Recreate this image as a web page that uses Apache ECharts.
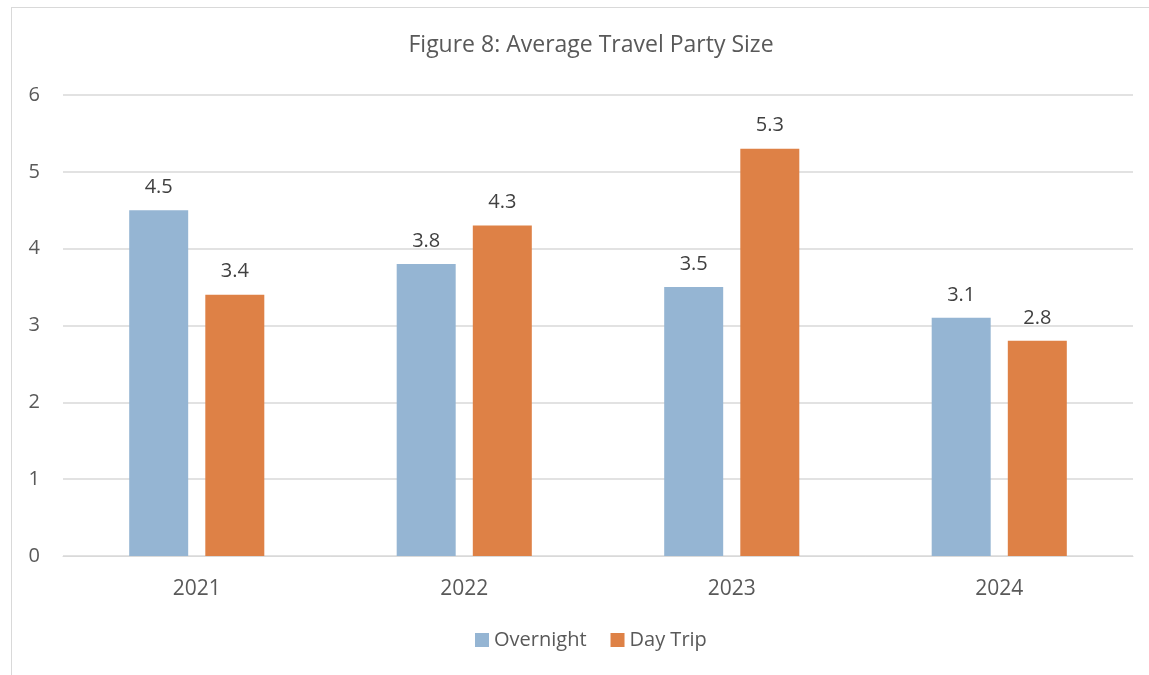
<!DOCTYPE html>
<html>
<head>
<meta charset="utf-8">
<script src="https://cdn.jsdelivr.net/npm/echarts@6/dist/echarts.min.js"></script>
<style>
  html, body { margin: 0; padding: 0; background: #fff; }
  #frame { position: absolute; left: 11px; top: 7px; width: 1200px; height: 700px; border: 1px solid #d9d9d9; box-sizing: border-box; }
  #chart { position: absolute; left: 0; top: 0; width: 1149px; height: 675px; }
</style>
</head>
<body>
<div id="frame"></div>
<div id="chart"></div>
<script>
const years = ['2021', '2022', '2023', '2024'];
const overnight = [4.5, 3.8, 3.5, 3.1];
const dayTrip = [3.4, 4.3, 5.3, 2.8];
const yTicks = [0, 1, 2, 3, 4, 5, 6];

const FONT = 'Open Sans';
const chart = echarts.init(document.getElementById('chart'));

const labelStyle = {
  show: true,
  position: 'top',
  distance: 13,
  fontFamily: FONT,
  fontSize: 20,
  color: '#404040',
  formatter: p => p.value.toFixed(1)
};

chart.setOption({
  animation: false,
  backgroundColor: 'transparent',
  title: {
    text: 'Figure 8: Average Travel Party Size',
    left: 586,
    textAlign: 'center',
    top: 29,
    textStyle: { fontFamily: FONT, fontSize: 23, fontWeight: 'normal', color: '#595959' }
  },
  grid: { left: 63, right: 16, top: 95, bottom: 119 },
  legend: {
    bottom: 20,
    left: 470,
    itemWidth: 14,
    itemHeight: 14,
    itemGap: 24,
    icon: 'rect',
    textStyle: { fontFamily: FONT, fontSize: 20, color: '#595959' },
    data: ['Overnight', 'Day Trip']
  },
  xAxis: {
    type: 'category',
    data: years,
    axisLine: { lineStyle: { color: '#d9d9d9', width: 1 } },
    axisTick: { show: false },
    axisLabel: { fontFamily: FONT, fontSize: 21, color: '#595959', margin: 23 }
  },
  yAxis: {
    type: 'value',
    min: yTicks[0],
    max: yTicks[yTicks.length - 1],
    interval: 1,
    axisLine: { show: false },
    axisTick: { show: false },
    axisLabel: { fontFamily: FONT, fontSize: 20, color: '#595959', margin: 23 },
    splitLine: { lineStyle: { color: '#d9d9d9', width: 1.5 } }
  },
  series: [
    {
      name: 'Overnight',
      type: 'bar',
      data: overnight,
      barWidth: 59,
      barGap: '29%',
      itemStyle: { color: '#95b5d3' },
      label: labelStyle
    },
    {
      name: 'Day Trip',
      type: 'bar',
      data: dayTrip,
      barWidth: 59,
      barGap: '29%',
      itemStyle: { color: '#de8146' },
      label: labelStyle
    }
  ]
});
</script>
</body>
</html>
